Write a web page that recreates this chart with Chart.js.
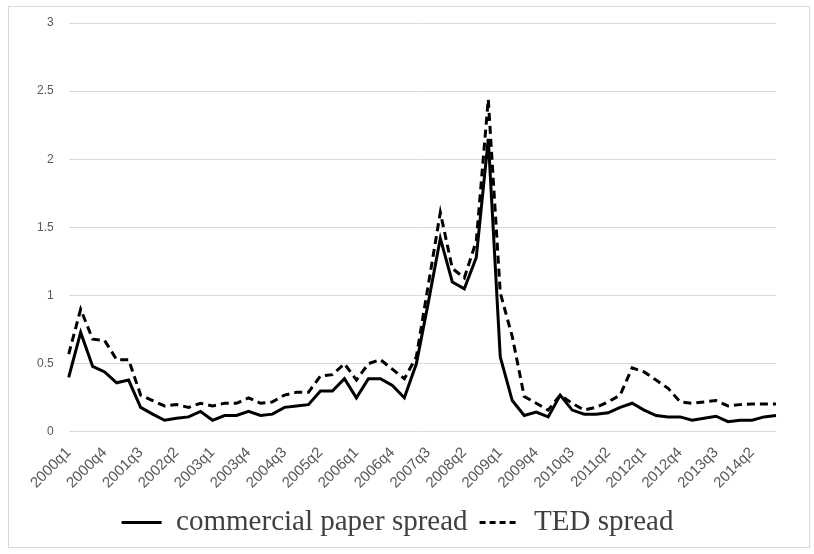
<!DOCTYPE html>
<html>
<head>
<meta charset="utf-8">
<script src="https://cdn.jsdelivr.net/npm/chart.js@4.4.1/dist/chart.umd.min.js"></script>
<style>
  html, body { margin: 0; padding: 0; background: #fff; }
  #frame {
    position: absolute; left: 8px; top: 6px;
    width: 800px; height: 540px;
    border: 1px solid #d9d9d9;
  }
</style>
</head>
<body>
<div id="frame"><canvas id="spreads"></canvas></div>
<script>
const quarters = [
  '2000q1','2000q2','2000q3','2000q4','2001q1','2001q2','2001q3','2001q4',
  '2002q1','2002q2','2002q3','2002q4','2003q1','2003q2','2003q3','2003q4',
  '2004q1','2004q2','2004q3','2004q4','2005q1','2005q2','2005q3','2005q4',
  '2006q1','2006q2','2006q3','2006q4','2007q1','2007q2','2007q3','2007q4',
  '2008q1','2008q2','2008q3','2008q4','2009q1','2009q2','2009q3','2009q4',
  '2010q1','2010q2','2010q3','2010q4','2011q1','2011q2','2011q3','2011q4',
  '2012q1','2012q2','2012q3','2012q4','2013q1','2013q2','2013q3','2013q4',
  '2014q1','2014q2','2014q3','2014q4'
];

const commercialPaper = [
  0.40, 0.73, 0.48, 0.44, 0.36, 0.38, 0.18, 0.13, 0.085, 0.10,
  0.11, 0.15, 0.085, 0.12, 0.12, 0.15, 0.12, 0.13, 0.18, 0.19,
  0.20, 0.30, 0.30, 0.39, 0.25, 0.39, 0.39, 0.34, 0.25, 0.50,
  0.95, 1.42, 1.10, 1.05, 1.28, 2.15, 0.55, 0.23, 0.12, 0.145,
  0.11, 0.27, 0.16, 0.13, 0.13, 0.14, 0.18, 0.21, 0.16, 0.12,
  0.11, 0.11, 0.085, 0.10, 0.115, 0.075, 0.085, 0.085, 0.11, 0.12
];

const tedSpread = [
  0.57, 0.90, 0.68, 0.67, 0.53, 0.53, 0.27, 0.23, 0.19, 0.20,
  0.18, 0.21, 0.19, 0.21, 0.21, 0.25, 0.21, 0.22, 0.27, 0.29,
  0.29, 0.41, 0.42, 0.50, 0.38, 0.50, 0.53, 0.46, 0.39, 0.55,
  1.08, 1.61, 1.20, 1.13, 1.40, 2.44, 1.02, 0.70, 0.26, 0.21,
  0.16, 0.27, 0.21, 0.16, 0.18, 0.22, 0.27, 0.47, 0.44, 0.38,
  0.32, 0.22, 0.21, 0.22, 0.23, 0.19, 0.20, 0.205, 0.205, 0.205
];

// every third quarter gets a label on the x axis
const labelEvery = 3;

// legend with the line samples (keeps the dash of each dataset)
function legendLabels(chart) {
  const items = Chart.defaults.plugins.legend.labels.generateLabels(chart);
  items.forEach(item => {
    const ds = chart.data.datasets[item.datasetIndex];
    item.lineDash = ds.borderDash ? [6, 4] : [];
    item.lineWidth = 3;
  });
  return items;
}

const ctx = document.getElementById('spreads').getContext('2d');
new Chart(ctx, {
  type: 'line',
  data: {
    labels: quarters,
    datasets: [
      {
        label: 'commercial paper spread',
        data: commercialPaper,
        borderColor: '#000',
        backgroundColor: '#000',
        borderWidth: 3,
        pointRadius: 0,
        pointStyle: 'line',
        tension: 0
      },
      {
        label: 'TED spread',
        data: tedSpread,
        borderColor: '#000',
        backgroundColor: '#000',
        borderWidth: 3,
        borderDash: [8, 5],
        pointRadius: 0,
        pointStyle: 'line',
        tension: 0
      }
    ]
  },
  options: {
    responsive: true,
    maintainAspectRatio: false,
    animation: false,
    layout: { padding: { top: 16, right: 33, left: 10, bottom: 0 } },
    plugins: {
      tooltip: { enabled: false },
      legend: {
        position: 'bottom',
        labels: {
          usePointStyle: true,
          pointStyleWidth: 40,
          padding: 12,
          color: '#404040',
          font: { family: "'Liberation Serif', serif", size: 29 },
          generateLabels: legendLabels
        }
      }
    },
    scales: {
      x: {
        offset: false,
        grid: { display: false },
        border: { display: false },
        ticks: {
          autoSkip: false,
          maxRotation: 45,
          minRotation: 45,
          padding: 4,
          color: '#595959',
          font: { family: "'Liberation Sans', sans-serif", size: 15 },
          callback: (v, i) => (i % labelEvery === 0 ? quarters[i] : '')
        }
      },
      y: {
        min: 0,
        max: 3,
        afterFit: scale => { scale.width += 18; },
        ticks: {
          stepSize: 0.5,
          padding: 0,
          color: '#595959',
          font: { family: "'Liberation Sans', sans-serif", size: 12 },
          callback: v => String(+v)
        },
        grid: { color: '#d9d9d9', tickColor: 'rgba(0,0,0,0)', tickLength: 15 },
        border: { display: false }
      }
    }
  }
});
</script>
</body>
</html>
